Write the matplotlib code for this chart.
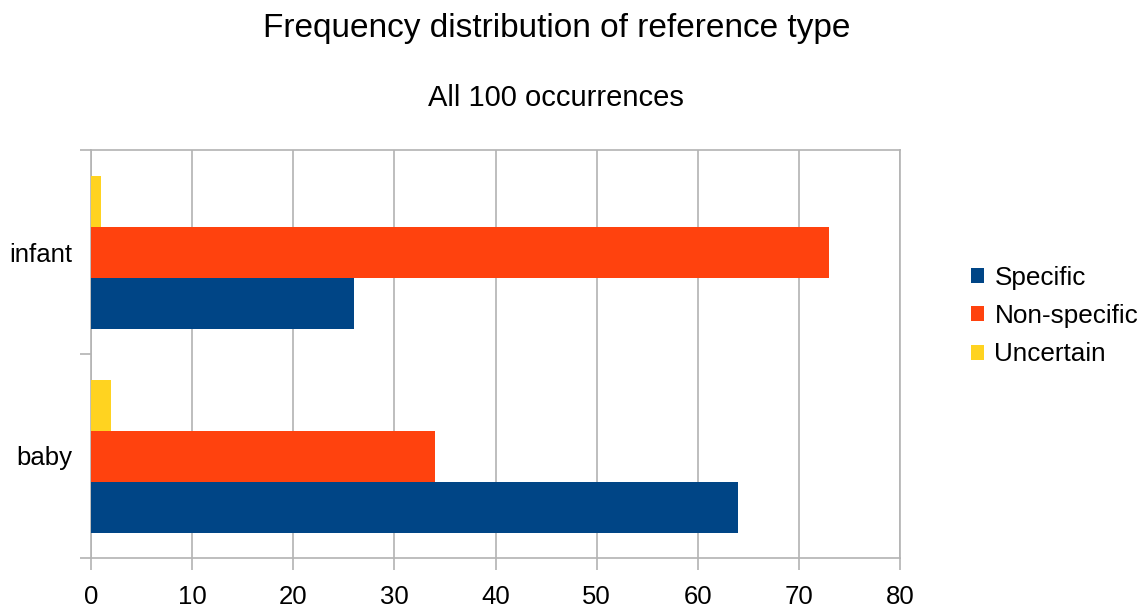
import matplotlib
matplotlib.use("Agg")
import matplotlib.pyplot as plt
import numpy as np
from matplotlib.patches import Patch

plt.rcParams['font.family'] = ['Liberation Sans', 'DejaVu Sans']

categories = ["baby", "infant"]
series_names = ["Specific", "Non-specific", "Uncertain"]
specific = [64, 26]
non_specific = [34, 73]
uncertain = [2, 1]
colors = ["#004586", "#ff420e", "#ffd320"]
x_ticks = [0, 10, 20, 30, 40, 50, 60, 70, 80]

grid_col = "#b3b3b3"

fig = plt.figure(figsize=(11.42, 6.08), dpi=100)
ax = fig.add_axes([91 / 1142, 50 / 608, (900 - 91) / 1142, (558 - 150) / 608])

y = np.arange(len(categories))
h = 0.25
for i, (vals, name, col) in enumerate(zip([specific, non_specific, uncertain], series_names, colors)):
    ax.barh(y + (i - 1) * h, vals, height=h, color=col, label=name, zorder=3)

ax.set_xlim(0, 80)
ax.set_ylim(-0.5, 1.5)
ax.set_xticks(x_ticks)
ax.set_yticks(y)
ax.set_yticklabels(categories)
ax.set_yticks([-0.5, 0.5, 1.5], minor=True)

ax.grid(axis='x', color=grid_col, linewidth=1.2, zorder=0)
for s in ax.spines.values():
    s.set_color(grid_col)
    s.set_linewidth(1.2)

ax.tick_params(axis='x', length=8.6, width=1.2, color=grid_col, labelsize=18.5, pad=11)
ax.tick_params(axis='y', which='major', length=0, labelsize=18.5, pad=13.5)
ax.tick_params(axis='y', which='minor', length=8, width=1.2, color=grid_col)

fig.text(557 / 1142, 1 - 28 / 608, "Frequency distribution of reference type",
         ha='center', va='center', fontsize=24)
fig.text(556 / 1142, 1 - 98 / 608, "All 100 occurrences",
         ha='center', va='center', fontsize=21)

handles = [Patch(facecolor=c, edgecolor='none') for c in colors]
fig.legend(handles, series_names, loc='center left',
           bbox_to_anchor=(971 / 1142, 1 - 316 / 608), frameon=False,
           fontsize=18.8, handlelength=0.5, handleheight=0.5,
           handletextpad=0.4, labelspacing=0.55, borderaxespad=0, borderpad=0)

fig.savefig("out.png", dpi=100)
